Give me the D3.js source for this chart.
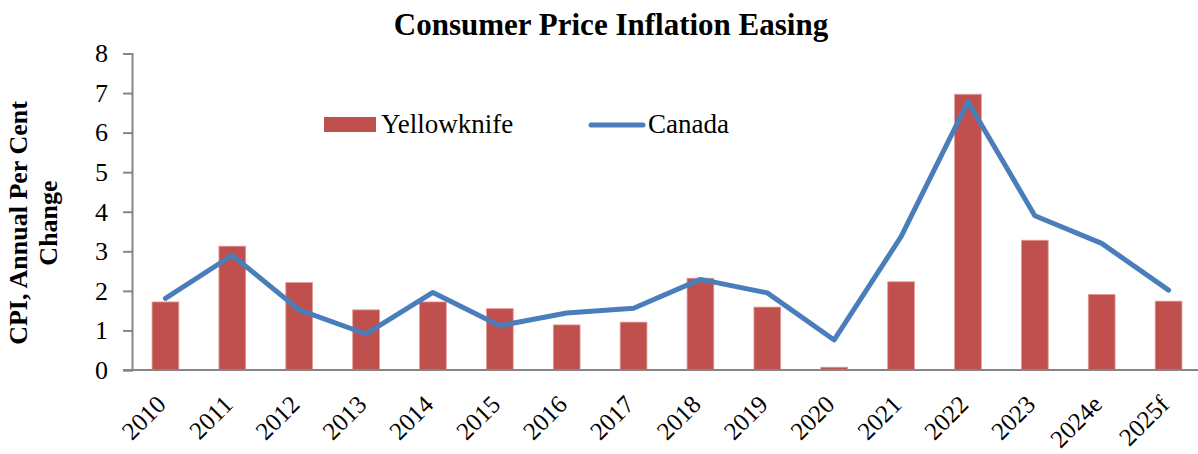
<!DOCTYPE html>
<html>
<head>
<meta charset="utf-8">
<script src="https://cdn.jsdelivr.net/npm/d3@7"></script>
<style>
  body { margin: 0; background: #fff; }
  svg { display: block; font-family: "Liberation Serif", "DejaVu Serif", serif; }
</style>
</head>
<body>
<div id="chart"></div>
<script>
// 数据
const years = ['2010', '2011', '2012', '2013', '2014', '2015', '2016', '2017',
  '2018', '2019', '2020', '2021', '2022', '2023', '2024e', '2025f'];
const yellowknife = [1.72, 3.13, 2.21, 1.52, 1.72, 1.55, 1.14, 1.21,
  2.32, 1.59, 0.07, 2.23, 6.97, 3.28, 1.91, 1.74];
const canada = [1.81, 2.9, 1.52, 0.91, 1.96, 1.12, 1.44, 1.56,
  2.29, 1.95, 0.76, 3.37, 6.78, 3.9, 3.2, 2.02];
const yTicks = [0, 1, 2, 3, 4, 5, 6, 7, 8];

const width = 1198, height = 454;
const x0 = 132, x1 = 1202, yTop = 53.5, yBottom = 370;

const svg = d3.select('#chart').append('svg')
  .attr('width', width)
  .attr('height', height);

const x = d3.scaleBand().domain(years).range([x0, x1]).paddingInner(0.6).paddingOuter(0.3);
const y = d3.scaleLinear().domain([0, 8]).range([yBottom, yTop]);

// 标题
svg.append('text')
  .attr('x', 611).attr('y', 35)
  .attr('text-anchor', 'middle')
  .style('font-size', '31px').style('font-weight', 'bold')
  .text('Consumer Price Inflation Easing');

// y轴
const yAxis = svg.append('g')
  .attr('transform', `translate(${x0},0)`)
  .call(d3.axisLeft(y).tickValues(yTicks).tickSize(9).tickPadding(15).tickFormat(d3.format('d')));
yAxis.select('.domain').attr('stroke', '#868686').attr('stroke-width', 2);
yAxis.selectAll('.tick line').attr('stroke', '#868686').attr('stroke-width', 2);
yAxis.selectAll('.tick text')
  .attr('fill', '#000')
  .style('font-size', '26px')
  .style('font-family', '"Liberation Serif", serif');

// y轴标题（两行）
const yTitle = svg.append('text')
  .attr('transform', 'translate(27,223) rotate(-90)')
  .attr('text-anchor', 'middle')
  .style('font-size', '26px').style('font-weight', 'bold');
yTitle.append('tspan').attr('x', 0).attr('dy', 0).text('CPI, Annual Per Cent');
yTitle.append('tspan').attr('x', 0).attr('dy', 30).text('Change');

// 柱子
svg.append('g').selectAll('rect')
  .data(years)
  .join('rect')
  .attr('x', d => x(d))
  .attr('y', (d, i) => y(yellowknife[i]))
  .attr('width', x.bandwidth())
  .attr('height', (d, i) => y(0) - y(yellowknife[i]))
  .attr('fill', '#C0504D')
  .attr('stroke', '#e39a98')
  .attr('stroke-width', 0.8);

// x轴
svg.append('line')
  .attr('x1', 123).attr('x2', width)
  .attr('y1', yBottom).attr('y2', yBottom)
  .attr('stroke', '#868686').attr('stroke-width', 2);

svg.append('g').selectAll('text')
  .data(years)
  .join('text')
  .attr('transform', d => `translate(${x(d) + x.bandwidth() / 2 + 2},${yBottom + 36}) rotate(-45)`)
  .attr('text-anchor', 'end')
  .style('font-size', '25px')
  .text(d => d);

// 折线
const line = d3.line()
  .x((d, i) => x(years[i]) + x.bandwidth() / 2)
  .y(d => y(d));

svg.append('path')
  .datum(canada)
  .attr('d', line)
  .attr('fill', 'none')
  .attr('stroke', '#4A7EBB')
  .attr('stroke-width', 5)
  .attr('stroke-linecap', 'round')
  .attr('stroke-linejoin', 'round');

// 图例
const legend = svg.append('g');
legend.append('rect')
  .attr('x', 324).attr('y', 117).attr('width', 52).attr('height', 15)
  .attr('fill', '#C0504D');
legend.append('text')
  .attr('x', 381).attr('y', 133)
  .style('font-size', '27px')
  .text('Yellowknife');
legend.append('line')
  .attr('x1', 591).attr('x2', 643).attr('y1', 125).attr('y2', 125)
  .attr('stroke', '#4A7EBB').attr('stroke-width', 5).attr('stroke-linecap', 'round');
legend.append('text')
  .attr('x', 648).attr('y', 133)
  .style('font-size', '27px')
  .text('Canada');
</script>
</body>
</html>
